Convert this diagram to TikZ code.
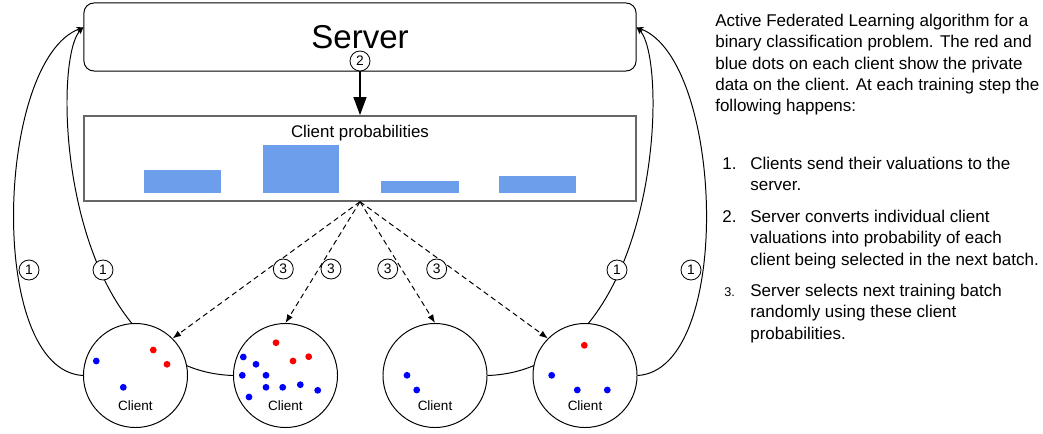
\documentclass[tikz,border=0pt]{standalone}
\usepackage{fontspec}
\setmainfont{Liberation Sans}
\usetikzlibrary{arrows.meta,backgrounds}
\definecolor{barblue}{HTML}{6D9EEB}

\tikzset{
	box/.style={draw, line width=0.7pt, minimum width=13.8cm, inner sep=0pt},
	client/.style={draw, circle, fill=white, line width=0.7pt, minimum size=2.6cm, inner sep=0pt},
	clienttext/.style={inner sep=0pt, font=\fontsize{9.6}{11}\selectfont},
	steplabel/.style={draw, circle, fill=white, line width=0.6pt, minimum size=0.5cm, inner sep=0pt, font=\fontsize{9.8}{11}\selectfont},
	sendarrow/.style={line width=0.7pt, -{Stealth[length=5pt,width=4pt]}},
	pickarrow/.style={line width=0.7pt, dash pattern=on 3.8pt off 2.6pt, -{Latex[length=6pt,width=4.5pt]}},
	desc/.style={font=\fontsize{12.1}{15.2}\selectfont, align=left, inner sep=0pt, anchor=north west},
	itemnum/.style={font=\fontsize{12.1}{15.2}\selectfont, inner sep=0pt, anchor=base west},
}

\begin{document}
\begin{tikzpicture}[x=0.025cm, y=-0.025cm]
		%%%%% START %%%%%
		\useasboundingbox (0,0) rectangle (1043,433);
		
		\node[box, rounded corners=0.25cm, minimum height=1.7cm, font=\fontsize{23.5}{28}\selectfont] (server) at (360,37) {Server};
		\node[box, draw=black!60, line width=1pt, minimum height=2.125cm] (probs) at (360,158.5) {};
		\node[inner sep=0pt, font=\fontsize{12}{14}\selectfont] (probtitle) at (360,133) {Client probabilities};
		
		\fill[barblue] (144, 170) rectangle (221, 193);
		\fill[barblue] (262.5, 144.7) rectangle (339, 193);
		\fill[barblue] (381, 181.3) rectangle (458.5, 193);
		\fill[barblue] (499, 175.7) rectangle (576, 193);
		
		\node[steplabel] (s2) at (360,61) {2};
		\draw[line width=1.8pt, -{Triangle[length=13pt,width=9pt]}] (s2.south) -- (probs.north);
		
		% clients
		\node[client] (c1) at (135.5,375.5) {};
		\node[client] (c2) at (285.5,375.5) {};
		\node[client] (c3) at (435,375.5) {};
		\node[client] (c4) at (585,375.5) {};
		
		\node[clienttext] (t1) at (135.5,405.5) {Client};
		\node[clienttext] (t2) at (285.5,405.5) {Client};
		\node[clienttext] (t3) at (435,405.5) {Client};
		\node[clienttext] (t4) at (585,405.5) {Client};
		
		\foreach \p in {(96.3,361), (123.3,387.3), (243.3,357), (256,364.3), (242.3,375.3), (266,375.3), (266,387.3), (282.7,387.3), (300.3,384.7), (317.7,390.3), (249,397), (407,375.3), (416.7,390), (551.7,375.3), (577.3,390), (607.3,390)}
			\fill[blue] \p circle[radius=0.085cm];
		\foreach \p in {(153.3,350), (167,364.3), (276,342.7), (293,361), (308.7,356.7), (584.3,345.3)}
			\fill[red] \p circle[radius=0.085cm];
		
		% valuations go up
		\begin{pgfonlayer}{background}
			\draw[sendarrow] (c1.west) .. controls (-14,370) and (-4,60) .. (server.178);
			\draw[sendarrow] (c2.west) .. controls (60,370) and (50,60) .. (server.178);
			\draw[sendarrow] (c3.east) .. controls (660,370) and (670,60) .. (server.2);
			\draw[sendarrow] (c4.east) .. controls (734,370) and (724,60) .. (server.2);
		\end{pgfonlayer}
		\node[steplabel] (s1a) at (29,270) {1};
		\node[steplabel] (s1b) at (103,270) {1};
		\node[steplabel] (s1c) at (617,270) {1};
		\node[steplabel] (s1d) at (691,270) {1};
		
		% batch selection
		\draw[pickarrow] (probs.south) -- (c1.45);
		\draw[pickarrow] (probs.south) -- (c2.north);
		\draw[pickarrow] (probs.south) -- (c3.north);
		\draw[pickarrow] (probs.south) -- (c4.135);
		\node[steplabel] (s3a) at (283.3,269) {3};
		\node[steplabel] (s3b) at (331,269) {3};
		\node[steplabel] (s3c) at (387.7,269) {3};
		\node[steplabel] (s3d) at (436.7,269) {3};
		
		% caption
		\node[desc] (intro) at (715,13.7) {Active Federated Learning algorithm for a\\binary classification problem. The red and\\blue dots on each client show the private\\data on the client. At each training step the\\following happens:};
		
		\node[itemnum] (n1) at (722,169) {1.};
		\node[desc] (item1) at (750,156.7) {Clients send their valuations to the\\server.};
		\node[itemnum] (n2) at (722,222) {2.};
		\node[desc] (item2) at (750,209.7) {Server converts individual client\\valuations into probability of each\\client being selected in the next batch.};
		\node[itemnum, font=\fontsize{9}{10}\selectfont] (n3) at (724,296) {3.};
		\node[desc] (item3) at (750,283.7) {Server selects next training batch\\randomly using these client\\probabilities.};
		
		%%%%% END %%%%%
\end{tikzpicture}
\end{document}
